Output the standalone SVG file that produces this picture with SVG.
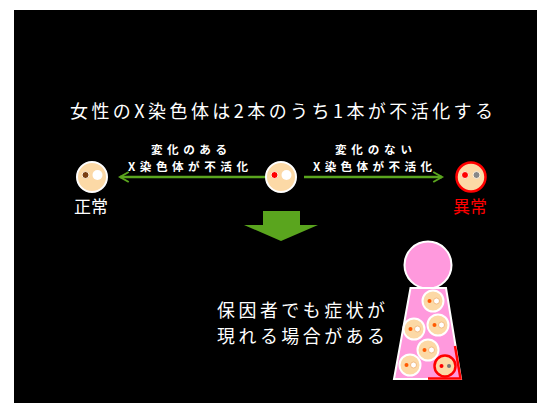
<svg xmlns="http://www.w3.org/2000/svg" width="537" height="403" viewBox="0 0 537 403">
  <defs>
    <style>
      .jp { font-family: "Noto Sans CJK JP", "Noto Sans", sans-serif; fill: #ffffff; }
      .title { font-size: 18px; }
      .lbl { font-size: 11.6px; font-weight: bold; }
      .state { font-size: 17px; }
      .msg { font-size: 17.9px; }
      .face { fill: #fcd9a6; stroke: #ffffff; stroke-width: 2; }
      .face-bad { fill: #fcd9a6; stroke: #ff0000; stroke-width: 2.5; }
      .wEye { fill: #ffffff; }
      .conn { stroke: #5aa51e; stroke-width: 2.5; fill: none; }
    </style>
    <marker id="ah" viewBox="0 0 10 10" refX="8" refY="5" markerWidth="5" markerHeight="5" orient="auto-start-reverse" markerUnits="strokeWidth">
      <path d="M1,1 L8,5 L1,9" fill="none" stroke="#5aa51e" stroke-width="1.6"/>
    </marker>
  </defs>

  <rect x="0" y="0" width="537" height="403" fill="#ffffff"/>
  <rect x="14" y="10" width="523" height="393" fill="#000000"/>

  <text class="jp title" x="70" y="118" textLength="423" lengthAdjust="spacing">女性のX染色体は2本のうち1本が不活化する</text>

  <!-- connectors -->
  <g id="connectors">
    <line class="conn" x1="269" y1="177" x2="120" y2="177" marker-end="url(#ah)"/>
    <line class="conn" x1="304" y1="177" x2="442" y2="177" marker-end="url(#ah)"/>
    <text class="jp lbl" x="151" y="154" textLength="76" lengthAdjust="spacing">変化のある</text>
    <text class="jp lbl" x="128" y="171" textLength="120" lengthAdjust="spacing">X染色体が不活化</text>
    <text class="jp lbl" x="335" y="154" textLength="77" lengthAdjust="spacing">変化のない</text>
    <text class="jp lbl" x="313" y="171" textLength="119" lengthAdjust="spacing">X染色体が不活化</text>
  </g>

  <!-- normal -->
  <g id="normal">
    <circle class="face" cx="92" cy="177" r="15"/>
    <circle cx="85.5" cy="175" r="3.5" fill="#7a3e12" stroke="#fff1dc" stroke-width="1"/>
    <circle class="wEye" cx="97.5" cy="175" r="5"/>
    <text class="jp state" x="91" y="213" text-anchor="middle">正常</text>
  </g>

  <!-- carrier -->
  <g id="carrier">
    <circle class="face" cx="281" cy="177" r="15"/>
    <circle cx="274.5" cy="175" r="3.5" fill="#ff0000" stroke="#fff1dc" stroke-width="1"/>
    <circle class="wEye" cx="286.5" cy="175" r="5"/>
  </g>

  <!-- abnormal -->
  <g id="abnormal">
    <circle class="face-bad" cx="471" cy="177" r="14.5"/>
    <circle cx="465" cy="175" r="3.5" fill="#ff0000" stroke="#fff1dc" stroke-width="1"/>
    <circle cx="476.5" cy="175" r="3.5" fill="#888888" stroke="#fff1dc" stroke-width="1"/>
    <text class="jp state" x="470" y="213" text-anchor="middle" style="fill:#ff0000">異常</text>
  </g>

  <!-- big down arrow -->
  <g id="down-arrow">
    <polygon points="263,211 300,211 300,225 318,225 281,241 244,225 263,225" fill="#5aa51e"/>
  </g>

  <g id="message">
    <text class="jp msg" x="217" y="317" textLength="168" lengthAdjust="spacing">保因者でも症状が</text>
    <text class="jp msg" x="217" y="343" textLength="168" lengthAdjust="spacing">現れる場合がある</text>
  </g>

  <!-- cell population figure -->
  <g id="population">
    <circle cx="428" cy="265" r="23.5" fill="#ff99dd" stroke="#ffffff" stroke-width="2"/>
    <polygon points="410.5,288 446,288 461,379 394,379" fill="#ff99dd" stroke="#ffffff" stroke-width="2"/>
    <polyline points="455,346 460.5,378.5 428,378.5" fill="none" stroke="#ff0000" stroke-width="2.5"/>
    <g id="cell1">
      <circle class="face" cx="433" cy="301" r="10.5"/>
      <circle cx="429.5" cy="301" r="2" fill="#ff5a00"/>
      <circle cx="436.5" cy="301" r="3" fill="#ffffff" stroke="#f0b070" stroke-width="0.8"/>
    </g>
    <g id="cell2">
      <circle class="face" cx="438" cy="325" r="10.5"/>
      <circle cx="434.5" cy="325" r="2" fill="#ff5a00"/>
      <circle cx="441.5" cy="325" r="3" fill="#ffffff" stroke="#f0b070" stroke-width="0.8"/>
    </g>
    <g id="cell3">
      <circle class="face" cx="414" cy="329" r="10.5"/>
      <circle cx="410.5" cy="329" r="2" fill="#ff5a00"/>
      <circle cx="417.5" cy="329" r="3" fill="#ffffff" stroke="#f0b070" stroke-width="0.8"/>
    </g>
    <g id="cell4">
      <circle class="face" cx="428" cy="350" r="10.5"/>
      <circle cx="424.5" cy="350" r="2" fill="#ff5a00"/>
      <circle cx="431.5" cy="350" r="3" fill="#ffffff" stroke="#f0b070" stroke-width="0.8"/>
    </g>
    <g id="cell5">
      <circle class="face" cx="410" cy="365" r="10.5"/>
      <circle cx="406.5" cy="365" r="2" fill="#ff5a00"/>
      <circle cx="413.5" cy="365" r="3" fill="#ffffff" stroke="#f0b070" stroke-width="0.8"/>
    </g>
    <g id="cell6">
      <circle class="face-bad" cx="445" cy="366" r="10.5"/>
      <circle cx="441.5" cy="366" r="2" fill="#ff0000"/>
      <circle cx="449" cy="366" r="2" fill="#777777"/>
    </g>
  </g>
</svg>
